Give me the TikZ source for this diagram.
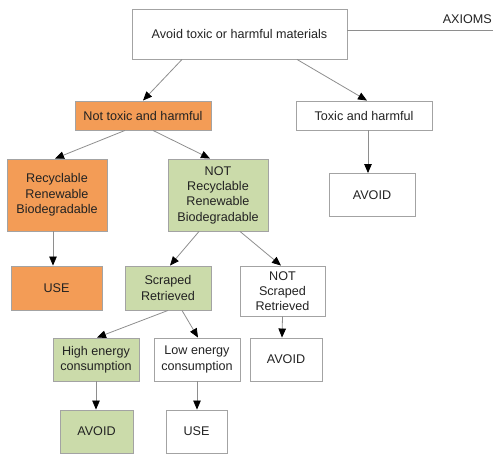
\documentclass[tikz,border=0pt]{standalone}
\usepackage{fontspec}
\setmainfont{Liberation Sans}
\usetikzlibrary{arrows.meta,calc}
\definecolor{orangefill}{HTML}{F39C56}
\definecolor{greenfill}{HTML}{CBDBAA}
\definecolor{boxline}{HTML}{A3A3A3}
\definecolor{linkgray}{HTML}{8E8E8E}
\definecolor{textgray}{HTML}{222222}
\tikzset{
  box/.style={draw=boxline, line width=0.9pt, inner sep=0pt, align=center,
    text=textgray, font=\fontsize{12.6}{15.3}\selectfont},
  link/.style={draw=linkgray, line width=0.8pt, -{Triangle[length=9pt,width=7.5pt,black]}},
}

\begin{document}
\begin{tikzpicture}[x=1pt,y=-1pt]
    \useasboundingbox (0,0) rectangle (493,454);

    % axioms
    \node[box, minimum width=215pt, minimum height=50pt] (top) at (239.5,34) {Avoid toxic or harmful materials};
    \node[anchor=east, inner sep=0pt, text=textgray, font=\fontsize{12.6}{15.3}\selectfont] (axioms) at (492,19) {AXIOMS};
    \coordinate (axend) at (493,30.3);

    % second level
    \node[box, fill=orangefill, minimum width=136pt, minimum height=29pt] (nottoxic) at (143,115.5) {Not toxic and harmful};
    \node[box, minimum width=136pt, minimum height=29pt] (toxic) at (364,115.5) {Toxic and harmful};

    % third level
    \node[box, fill=orangefill, minimum width=100pt, minimum height=72pt] (recyc) at (57,195) {Recyclable\\Renewable\\Biodegradable};
    \node[box, fill=greenfill, minimum width=100pt, minimum height=72pt] (notrecyc) at (218,195) {NOT\\Recyclable\\Renewable\\Biodegradable};
    \node[box, minimum width=86pt, minimum height=43pt] (avoidA) at (372,195) {AVOID};

    % fourth level
    \node[box, fill=orangefill, minimum width=91pt, minimum height=44pt] (useA) at (56.5,288) {USE};
    \node[box, fill=greenfill, minimum width=86pt, minimum height=44pt] (scraped) at (168,288) {Scraped\\Retrieved};
    \node[box, minimum width=85pt, minimum height=50pt] (notscraped) at (282.5,291) {NOT\\Scraped\\Retrieved};

    % fifth level
    \node[box, fill=greenfill, minimum width=86pt, minimum height=43pt] (high) at (96,359.5) {High energy\\consumption};
    \node[box, minimum width=86pt, minimum height=43pt] (low) at (197,359.5) {Low energy\\consumption};
    \node[box, minimum width=72pt, minimum height=43pt] (avoidC) at (286,359.5) {AVOID};

    % last level
    \node[box, fill=greenfill, minimum width=73pt, minimum height=43pt] (avoidB) at (96.5,431.5) {AVOID};
    \node[box, minimum width=61pt, minimum height=43pt] (useB) at (196.5,431.5) {USE};

    % connectors
    \draw[draw=linkgray, line width=0.8pt] ([yshift=3.7pt]top.east) -- (axend);
    \draw[link] ([xshift=-57.5pt]top.south) -- (nottoxic.north);
    \draw[link] ([xshift=57.5pt]top.south) -- ([xshift=3pt]toxic.north);
    \draw[link] ([xshift=-18pt]nottoxic.south) -- ([xshift=-2pt]recyc.north);
    \draw[link] ([xshift=10pt]nottoxic.south) -- ([xshift=-8pt]notrecyc.north);
    \draw[link] ([xshift=4pt]toxic.south) -- ([xshift=-4pt]avoidA.north);
    \draw[link] ([xshift=-4pt]recyc.south) -- ([xshift=-3.5pt]useA.north);
    \draw[link] ([xshift=-19pt]notrecyc.south) -- ([xshift=2pt]scraped.north);
    \draw[link] ([xshift=22pt]notrecyc.south) -- ([xshift=-1.5pt]notscraped.north);
    \draw[link] (notscraped.south) -- ([xshift=-4pt]avoidC.north);
    \draw[link] (scraped.south) -- ([xshift=1pt]high.north);
    \draw[link] ([xshift=14pt]scraped.south) -- ([xshift=1pt]low.north);
    \draw[link] (high.south) -- ([xshift=-0.5pt]avoidB.north);
    \draw[link] (low.south) -- ([xshift=0.5pt]useB.north);
\end{tikzpicture}
\end{document}
